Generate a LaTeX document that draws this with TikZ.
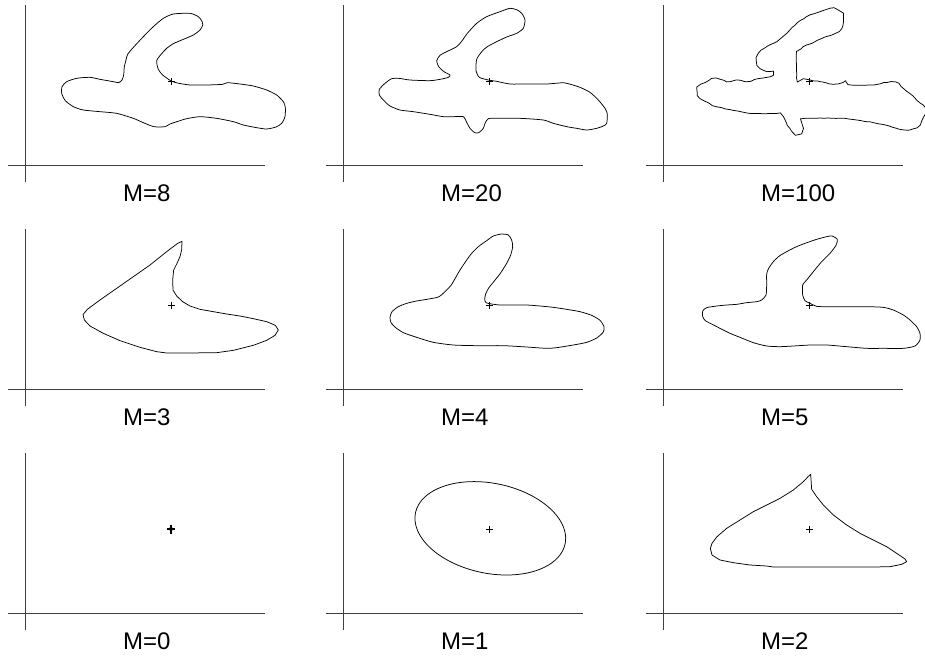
\documentclass[tikz,border=0pt]{standalone}
\usepackage{fontspec}
\setmainfont{Liberation Sans}
\usetikzlibrary{decorations.pathmorphing}

\begin{document}
\begin{tikzpicture}[x=1pt, y=-1pt,
  axis/.style={black!75, line width=0.7pt},
  outline/.style={black, line width=0.75pt, line join=round},
  centre/.style={black, line width=0.6pt},
  mlabel/.style={anchor=base west, inner sep=0pt, font=\fontsize{24}{28}\selectfont}]
  \useasboundingbox (0,0) rectangle (925,657);
  \foreach \ox/\oy/\m in {25/165/8, 343/165/20, 663/165/100, 25/389/3, 343/389/4, 663/389/5, 25/613/0, 343/613/1, 663/613/2} {
    \coordinate (o\m) at (\ox,\oy);
    \coordinate (c\m) at (\ox+146,\oy-84);
    \draw[axis] (o\m) ++(0,17) -- ++(0,-177);
    \draw[axis] (o\m) ++(-17,0) -- ++(257,0);
    \draw[centre] (c\m) +(-3.5,0) -- +(3.5,0) (c\m) +(0,-3.5) -- +(0,3.5);
    \node[mlabel] (lab\m) at (\ox+98,\oy+36) {M=\m};
  }
  \fill (c0) circle (2);
  \draw[line width=1.1pt] (c0) +(-4,0) -- +(4,0) (c0) +(0,-4.5) -- +(0,4.5);

  % M=8
  \begin{scope}[shift={(0,0)}, scale=1/3]
    \draw[outline] plot[smooth cycle, tension=0.4] coordinates {(470,182) (475,208) (488,225) (512,242) (532,249) (570,255) (620,255) (668,253) (682,248) (720,252) (760,258) (800,270) (830,285) (850,305) (856,322) (855,350) (845,370) (828,381) (800,387) (770,383) (730,375) (700,365) (650,355) (600,350) (560,356) (540,362) (510,372) (495,380) (462,380) (430,368) (400,355) (350,340) (300,335) (250,330) (220,320) (196,302) (185,280) (186,260) (200,245) (230,235) (270,232) (300,238) (340,245) (356,248) (366,240) (371,225) (373,200) (378,180) (383,163) (402,140) (430,110) (460,80) (490,55) (520,42) (570,40) (595,50) (606,64) (608,76) (600,90) (580,105) (550,118) (520,131) (500,145) (485,161)};
  \end{scope}

  % M=20
  \begin{scope}[shift={(320,0)}, scale=1/3]
    \draw[outline] plot[smooth cycle, tension=0.4] coordinates {(470,178) (468,212) (478,232) (505,240) (530,244) (570,252) (620,252) (680,252) (730,248) (745,251) (780,262) (810,277) (835,300) (855,325) (862,342) (860,370) (850,378) (830,385) (800,390) (770,385) (740,380) (700,370) (670,360) (600,355) (530,355) (505,356) (495,370) (490,385) (476,398) (464,398) (450,385) (440,367) (430,350) (400,350) (370,350) (330,343) (280,335) (240,330) (210,318) (190,300) (178,285) (178,268) (195,250) (215,236) (237,235) (270,240) (330,242) (360,238) (385,232) (390,225) (372,215) (356,200) (350,182) (360,166) (380,155) (410,140) (425,124) (442,100) (470,70) (500,50) (540,35) (570,25) (592,30) (606,41) (615,60) (610,85) (590,100) (560,111) (530,125) (502,140) (486,154)};
  \end{scope}

  % M=100
  \begin{scope}[shift={(640,0)}, scale=1/3]
    \draw[outline, decorate, decoration={random steps, segment length=4pt, amplitude=0.35pt}] plot[smooth cycle, tension=0.3] coordinates {(470,152) (470,235) (490,236) (510,240) (540,245) (570,252) (600,250) (606,242) (612,250) (640,255) (700,255) (730,248) (765,246) (790,265) (810,281) (830,300) (850,316) (856,332) (850,352) (840,375) (820,386) (800,390) (770,385) (740,376) (700,368) (650,360) (600,355) (496,355) (490,366) (490,385) (480,399) (465,398) (450,385) (440,370) (430,350) (418,342) (380,341) (330,340) (280,331) (230,320) (200,306) (180,295) (172,278) (176,262) (195,248) (215,236) (240,238) (260,245) (290,240) (320,245) (345,238) (380,232) (400,225) (380,215) (360,205) (350,185) (356,160) (380,140) (410,125) (440,100) (470,70) (500,50) (540,35) (570,25) (595,31) (606,45) (610,65) (605,85) (585,100) (555,111) (525,125) (500,135) (484,146)};
  \end{scope}

  % M=3
  \begin{scope}[shift={(0,220)}, scale=1/3]
    \draw[outline] (546,64) -- (533,70) -- (500,95) -- (450,135) -- (400,170) -- (350,205) -- (300,240) -- (262,268) -- (249,284) -- (253,300) -- (270,318) -- (310,340) -- (360,362) -- (420,382) -- (470,395) -- (500,399) -- (560,399) -- (650,398) -- (700,391) -- (760,376) -- (800,361) -- (825,346) -- (835,330) -- (826,316) -- (800,305) -- (760,296) -- (720,288) -- (680,282) -- (640,275) -- (600,268) -- (570,258) -- (548,245) -- (530,228) -- (519,210) -- (518,180) -- (521,150) -- (531,130) -- (540,110) -- (545,90) -- cycle;
  \end{scope}

  % M=4
  \begin{scope}[shift={(320,220)}, scale=1/3]
    \draw[outline] plot[smooth cycle, tension=0.4] coordinates {(494,238) (497,222) (506,204) (522,184) (541,160) (560,130) (572,105) (578,80) (575,60) (565,45) (545,42) (520,48) (500,62) (475,80) (455,100) (440,120) (420,150) (405,176) (393,196) (375,215) (355,231) (320,238) (290,243) (260,250) (235,260) (216,275) (210,292) (213,308) (226,322) (250,338) (290,352) (340,367) (400,375) (470,377) (550,377) (620,381) (680,385) (710,383) (760,375) (800,367) (830,354) (850,336) (852,320) (840,301) (815,286) (780,275) (740,268) (700,262) (660,258) (620,255) (580,255) (540,255) (515,252) (498,248)};
  \end{scope}

  % M=5
  \begin{scope}[shift={(640,220)}, scale=1/3]
    \draw[outline] plot[smooth cycle, tension=0.4] coordinates {(488,225) (488,195) (500,180) (520,155) (545,125) (570,100) (588,76) (592,58) (576,48) (560,50) (530,58) (495,70) (465,82) (440,95) (418,108) (400,125) (386,145) (380,162) (380,195) (378,225) (365,240) (350,245) (320,248) (290,253) (260,255) (230,258) (200,263) (188,273) (188,290) (196,302) (215,312) (240,325) (270,340) (300,352) (340,368) (380,378) (420,380) (460,378) (510,375) (560,375) (620,380) (680,385) (730,385) (790,385) (825,378) (840,360) (840,340) (830,320) (810,300) (790,285) (760,270) (730,262) (680,260) (620,260) (560,260) (530,259) (510,250) (495,242)};
  \end{scope}

  % M=1
  \draw[outline] plot[domain=0:360, samples=90, smooth cycle] ({490.3+76.4*cos(\x)*cos(11.7)-45*sin(\x)*sin(11.7)}, {528.3+76.4*cos(\x)*sin(11.7)+45*sin(\x)*cos(11.7)});

  % M=2
  \begin{scope}[shift={(640,440)}, scale=1/3]
    \draw[outline] (512,103) -- (515,148) -- (530,170) -- (550,195) -- (580,225) -- (620,255) -- (660,280) -- (700,300) -- (740,320) -- (770,340) -- (795,357) -- (800,365) -- (785,373) -- (750,380) -- (700,381) -- (600,381) -- (500,381) -- (400,381) -- (380,378) -- (330,375) -- (280,368) -- (240,360) -- (216,345) -- (211,325) -- (216,310) -- (231,290) -- (260,265) -- (300,240) -- (340,215) -- (380,195) -- (420,175) -- (460,150) -- (490,125) -- (505,109) -- cycle;
  \end{scope}
\end{tikzpicture}
\end{document}
